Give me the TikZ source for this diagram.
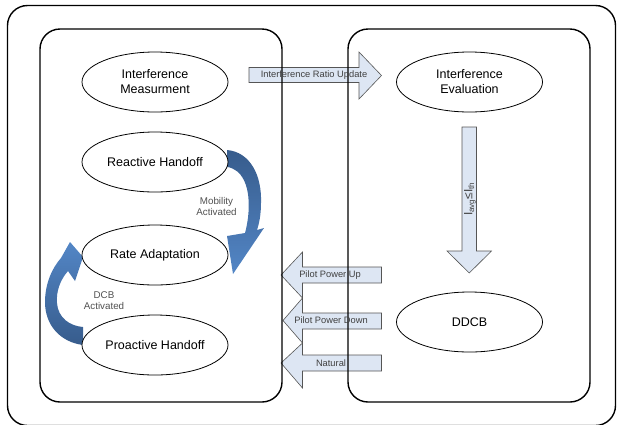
\documentclass[tikz,border=0pt]{standalone}
\usepackage{fontspec}
\setmainfont{Liberation Sans}
\usetikzlibrary{shapes.geometric}
\definecolor{arrfill}{HTML}{DDE6F3}
\definecolor{arrline}{HTML}{555555}
\definecolor{labgray}{HTML}{404040}
\definecolor{smallgray}{HTML}{505050}
\definecolor{bluedark}{HTML}{375C8C}
\definecolor{bluelight}{HTML}{5386C6}
\begin{document}
\begin{tikzpicture}[x=1pt,y=-1pt,
  stateell/.style={ellipse,draw=black,line width=0.8pt,fill=white,minimum width=146pt,minimum height=60pt,inner sep=0pt,align=center,font=\fontsize{12.5}{15}\selectfont},
  panel/.style={draw=black,line width=1.4pt,rounded corners=20pt},
  blockarr/.style={draw=arrline,fill=arrfill,line width=0.6pt,line join=miter},
  arrlabel/.style={font=\fontsize{9.3}{10}\selectfont,text=labgray,inner sep=0pt},
  smalllabel/.style={font=\fontsize{9.8}{11}\selectfont,text=smallgray,align=center,inner sep=0pt}
]
\useasboundingbox (0,0) rectangle (618,424);

% block arrows
\draw[blockarr] (249,67.5) -- (359,67.5) -- (359,52) -- (381.5,75.5) -- (359,99) -- (359,82.5) -- (249,82.5) -- cycle;
\draw[blockarr] (462,127) -- (476.5,127) -- (476.5,251) -- (491.5,251) -- (469.25,273) -- (447,251) -- (462,251) -- cycle;
\draw[blockarr] (381.5,267) -- (302.5,267) -- (302.5,252) -- (281,275) -- (302.5,298) -- (302.5,283) -- (381.5,283) -- cycle;
\draw[blockarr] (381.5,313) -- (302.5,313) -- (302.5,298) -- (283,320.5) -- (302.5,343) -- (302.5,329) -- (381.5,329) -- cycle;
\draw[blockarr] (381.5,355) -- (302.5,355) -- (302.5,343) -- (281,363) -- (302.5,388) -- (302.5,371) -- (381.5,371) -- cycle;

% frames
\draw[panel] (7.5,5.5) rectangle (615.5,425.5);
\draw[panel] (40,29) rectangle (282,402);
\draw[panel] (348,29) rectangle (590,402);

% curved arrows
\shade[top color=bluedark,bottom color=bluelight]
  (227,150) .. controls (250,152) and (262,175) .. (261,203)
  .. controls (261,215) and (259,224) .. (257,230)
  -- (264,228) -- (233,274) -- (227,236) -- (245,233)
  .. controls (250,215) and (252,185) .. (238,172)
  .. controls (234,169) and (230,167) .. (227,167) -- cycle;
\shade[top color=bluelight,bottom color=bluedark]
  (83,345) .. controls (60,342) and (45,325) .. (45,302)
  .. controls (45,284) and (52,268) .. (61,258)
  -- (70,242) -- (83,257) -- (75,281) -- (68,271)
  .. controls (60,280) and (56,292) .. (57,303)
  .. controls (58,318) and (70,326) .. (83,327) -- cycle;

% states
\node[stateell] (im) at (155,82) {Interference\\Measurment};
\node[stateell] (rh) at (155,162) {Reactive Handoff};
\node[stateell] (ra) at (155,255) {Rate Adaptation};
\node[stateell] (ph) at (155,345) {Proactive Handoff};
\node[stateell] (ie) at (469.5,82) {Interference\\Evaluation};
\node[stateell] (dd) at (469.5,322) {DDCB};

% labels
\node[arrlabel] (lru) at (314,75) {Interference Ratio Update};
\node[arrlabel] (lpu) at (330,275) {Pilot Power Up};
\node[arrlabel] (lpd) at (331,320.5) {Pilot Power Down};
\node[arrlabel] (lna) at (331,363) {Natural};
\node[font=\fontsize{12}{14}\selectfont,text=labgray,inner sep=0pt,rotate=90] (lth) at (470,199) {I\textsubscript{avg}≤I\textsubscript{th}};
\node[smalllabel] (lmob) at (216.5,206) {Mobility\\Activated};
\node[smalllabel] (ldcb) at (104,300.5) {DCB\\Activated};
\end{tikzpicture}
\end{document}
